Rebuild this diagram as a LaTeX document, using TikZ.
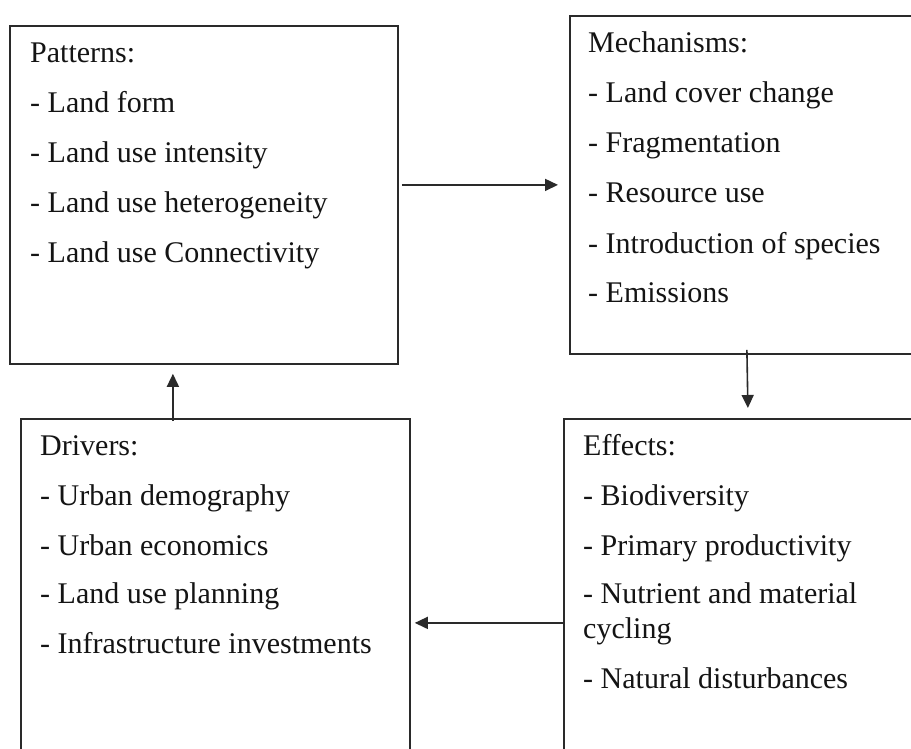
\documentclass[tikz,border=0pt]{standalone}
\usepackage{fontspec}
\setmainfont{Liberation Serif}
\usetikzlibrary{arrows.meta}
\definecolor{linecol}{HTML}{2A2A2A}
\definecolor{txtcol}{HTML}{141414}
\begin{document}
\begin{tikzpicture}[x=1pt,y=-1pt,
  box/.style={draw=linecol, line width=1.8pt, anchor=north west, inner sep=0pt, rectangle},
  txt/.style={anchor=base west, inner sep=0pt, text=txtcol, font=\fontsize{30}{35}\selectfont},
  arr/.style={draw=linecol, line width=1.6pt, -{Triangle[length=13pt,width=12pt]}}]
\useasboundingbox (0,0) rectangle (911,749);
\clip (0,0) rectangle (911,749);
\fill[white] (0,0) rectangle (911,749);
% boxes
\node[box, minimum width=388pt, minimum height=338pt] (pat) at (9,25) {};
\node[box, minimum width=354pt, minimum height=338pt] (mech) at (569,15) {};
\node[box, minimum width=389pt, minimum height=408pt] (drv) at (20,418) {};
\node[box, minimum width=368pt, minimum height=408pt] (eff) at (563,418) {};
% Patterns text
\node[txt] (p0) at (30,63) {Patterns:};
\node[txt] (p1) at (30,113) {- Land form};
\node[txt] (p2) at (30,163) {- Land use intensity};
\node[txt] (p3) at (30,212) {- Land use heterogeneity};
\node[txt] (p4) at (30,262) {- Land use Connectivity};
% Mechanisms text
\node[txt] (m0) at (588,53) {Mechanisms:};
\node[txt] (m1) at (588,103) {- Land cover change};
\node[txt] (m2) at (588,153) {- Fragmentation};
\node[txt] (m3) at (588,203) {- Resource use};
\node[txt] (m4) at (588,253) {- Introduction of species};
\node[txt] (m5) at (588,302) {- Emissions};
% Drivers text
\node[txt] (d0) at (40,455) {Drivers:};
\node[txt] (d1) at (40,505) {- Urban demography};
\node[txt] (d2) at (40,555) {- Urban economics};
\node[txt] (d3) at (40,603) {- Land use planning};
\node[txt] (d4) at (40,653) {- Infrastructure investments};
% Effects text
\node[txt] (e0) at (583,455) {Effects:};
\node[txt] (e1) at (583,505) {- Biodiversity};
\node[txt] (e2) at (583,555) {- Primary productivity};
\node[txt] (e3) at (583,603) {- Nutrient and material};
\node[txt] (e4) at (583,638) {cycling};
\node[txt] (e5) at (583,688) {- Natural disturbances};
% connectors
\draw[arr] ([xshift=3pt,yshift=10pt]pat.east) -- ([xshift=-11pt]mech.west);
\draw[arr] ([yshift=5pt]mech.south) -- ([yshift=10pt]eff.north);
\draw[arr] (eff.west) -- ([xshift=4pt]drv.east);
\draw[arr] ([xshift=-42.5pt,yshift=-3pt]drv.north) -- ([xshift=-31pt,yshift=-9pt]pat.south);
\end{tikzpicture}
\end{document}
